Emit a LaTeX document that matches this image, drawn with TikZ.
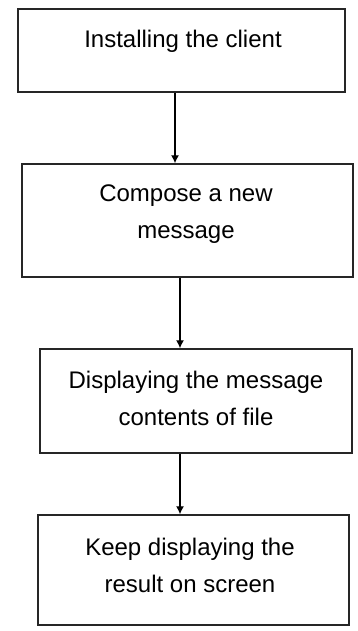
\documentclass[tikz,border=0pt]{standalone}
\usepackage{fontspec}
\setmainfont{Liberation Sans}
\usetikzlibrary{arrows.meta}
\begin{document}
\begin{tikzpicture}[x=1pt,y=-1pt,
  stepbox/.style={draw=black!85,line width=1.4pt,fill=white,inner sep=0pt},
  steptext/.style={align=center,font=\fontsize{24}{37}\selectfont,inner sep=0pt},
  flow/.style={draw=black,line width=1.3pt,-{Latex[length=8pt,width=8pt]}}]
\useasboundingbox[fill=white] (0,0) rectangle (357,631);
% process steps, top to bottom
\node[stepbox,minimum width=327pt,minimum height=83pt] (s1) at (181.5,50.5) {};
\node[stepbox,minimum width=331pt,minimum height=113pt] (s2) at (187.5,220.5) {};
\node[stepbox,minimum width=312pt,minimum height=104pt] (s3) at (196,401) {};
\node[stepbox,minimum width=311pt,minimum height=110pt] (s4) at (193.5,570) {};
% labels
\node[steptext] (t1) at (183,41) {Installing the client};
\node[steptext] (t2) at (186,214) {Compose a new\\message};
\node[steptext] (t3) at (196,398) {Displaying the message\\contents of file};
\node[steptext] (t4) at (190,565) {Keep displaying the\\result on screen};
% connectors
\draw[flow] (s1.south -| 175,0) -- (s2.north -| 175,0);
\draw[flow] (s2.south -| 180,0) -- (s3.north -| 180,0);
\draw[flow] (s3.south -| 180,0) -- (s4.north -| 180,0);
\end{tikzpicture}
\end{document}
